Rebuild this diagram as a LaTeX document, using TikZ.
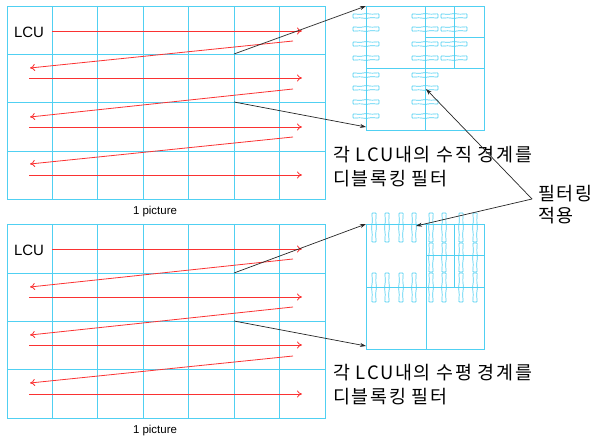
\documentclass[tikz,border=0pt]{standalone}
\usepackage{fontspec}
\setmainfont{Liberation Sans}
\newfontfamily\kr[LetterSpace=9]{Noto Sans CJK KR}
\usetikzlibrary{arrows.meta}
\definecolor{gridc}{RGB}{80,208,242}
\definecolor{redc}{RGB}{250,50,50}
\tikzset{
  gridline/.style={draw=gridc,line width=0.9bp},
  scanarrow/.style={draw=redc,line width=0.8bp,-{To[length=5bp,width=7bp]}},
  callout/.style={draw=black!85,line width=0.7bp,-{Stealth[length=6bp,width=4bp]}},
  markc/.style={draw=gridc,line width=0.7bp,rounded corners=0.7bp},
  lab/.style={font=\kr\fontsize{18.5}{21}\selectfont,anchor=west,inner sep=0pt,align=left},
  lcu/.style={font=\fontsize{15}{18}\selectfont,inner sep=0pt},
  pic/.style={font=\fontsize{11.5}{13}\selectfont,inner sep=0pt},
  hmark/.pic={\draw[markc] (-13,-2.2) -- (-6,-1.6) -- (0,-2.4) -- (6,-1.8) -- (13,-2.2) -- (13,2.2) -- (6,1.6) -- (0,2.4) -- (-6,1.8) -- (-13,2.2) -- cycle;},
  vmark/.pic={\draw[markc] (-2.2,-14.5) -- (-1.6,-7) -- (-2.4,0) -- (-1.8,7) -- (-2.2,14.5) -- (2.2,14.5) -- (1.6,7) -- (2.4,0) -- (1.8,-7) -- (2.2,-14.5) -- cycle;}
}
\begin{document}
\begin{tikzpicture}[x=1bp,y=-1bp]
\useasboundingbox (0,0) rectangle (596,441);
% ---------- top picture grid ----------
\draw[gridline] (7,6) rectangle (325,199);
\foreach \x in {52,97,143,188,234,279} \draw[gridline] (\x,6) -- (\x,199);
\foreach \y in {54,102,151} \draw[gridline] (7,\y) -- (325,\y);
\node[lcu] (lcuA) at (29,32) {LCU};
\node[pic] (picA) at (155,212) {1 picture};
\coordinate (a1s) at (52,31);  \coordinate (a1e) at (302,31);
\draw[scanarrow] (a1s) -- (a1e);
\foreach \ya/\yb/\yc [count=\i] in {41/68/78, 89/117/127, 137/164/175}{
  \coordinate (ab\i) at (293,\ya); \coordinate (ae\i) at (30,\yb);
  \draw[scanarrow] (ab\i) -- (ae\i);
  \coordinate (rs\i) at (29,\yc); \coordinate (re\i) at (302,\yc);
  \draw[scanarrow] (rs\i) -- (re\i);
}
% ---------- top zoom box ----------
\draw[gridline] (366,6) rectangle (484,130);
\draw[gridline] (425,6) -- (425,130);
\draw[gridline] (454,6) -- (454,68);
\draw[gridline] (366,68) -- (484,68);
\draw[gridline] (425,37) -- (484,37);
\foreach \y in {16,29,44,58,75,88,102,116} {
  \pic at (366,\y) {hmark};
  \pic at (425,\y) {hmark};
}
\foreach \y in {16,29,44,58} \pic at (454,\y) {hmark};
\coordinate (gA1) at (234,54); \coordinate (bA1) at (366,6);
\coordinate (gA2) at (234,102); \coordinate (bA2) at (366,127);
\draw[callout] (gA1) -- (bA1);
\draw[callout] (gA2) -- (bA2);
\node[lab] (txtA) at (333,167) {각 LCU내의 수직 경계를\\[3bp]디블록킹 필터};
% ---------- bottom picture grid ----------
\draw[gridline] (7,224) rectangle (325,418);
\foreach \x in {52,97,143,188,234,279} \draw[gridline] (\x,224) -- (\x,418);
\foreach \y in {273,321,369} \draw[gridline] (7,\y) -- (325,\y);
\node[lcu] (lcuB) at (29,250) {LCU};
\node[pic] (picB) at (155,431) {1 picture};
\coordinate (b1s) at (52,249);  \coordinate (b1e) at (302,249);
\draw[scanarrow] (b1s) -- (b1e);
\foreach \ya/\yb/\yc [count=\i] in {259/287/297, 307/335/345, 356/383/394}{
  \coordinate (bb\i) at (293,\ya); \coordinate (be\i) at (30,\yb);
  \draw[scanarrow] (bb\i) -- (be\i);
  \coordinate (ss\i) at (29,\yc); \coordinate (se\i) at (302,\yc);
  \draw[scanarrow] (ss\i) -- (se\i);
}
% ---------- bottom zoom box ----------
\draw[gridline] (366,224) rectangle (484,349);
\draw[gridline] (426,224) -- (426,349);
\draw[gridline] (454,224) -- (454,287);
\draw[gridline] (366,287) -- (484,287);
\draw[gridline] (426,255) -- (484,255);
\foreach \x in {374,387,401,414,431,444,461,475} {
  \pic at (\x,227.5) {vmark};
  \pic at (\x,287.5) {vmark};
}
\foreach \x in {431,444,461,475} \pic at (\x,257.5) {vmark};
\coordinate (gB1) at (234,273); \coordinate (bB1) at (366,224);
\coordinate (gB2) at (234,321); \coordinate (bB2) at (366,346);
\draw[callout] (gB1) -- (bB1);
\draw[callout] (gB2) -- (bB2);
\node[lab] (txtB) at (333,385) {각 LCU내의 수평 경계를\\[3bp]디블록킹 필터};
% ---------- filtering label ----------
\node[lab] (filt) at (538,205) {필터링\\[1bp]적용};
\coordinate (fo) at (532,199);
\coordinate (ft) at (426,89);
\coordinate (fb) at (416,226);
\draw[callout] (fo) -- (ft);
\draw[callout] (fo) -- (fb);
\end{tikzpicture}
\end{document}
